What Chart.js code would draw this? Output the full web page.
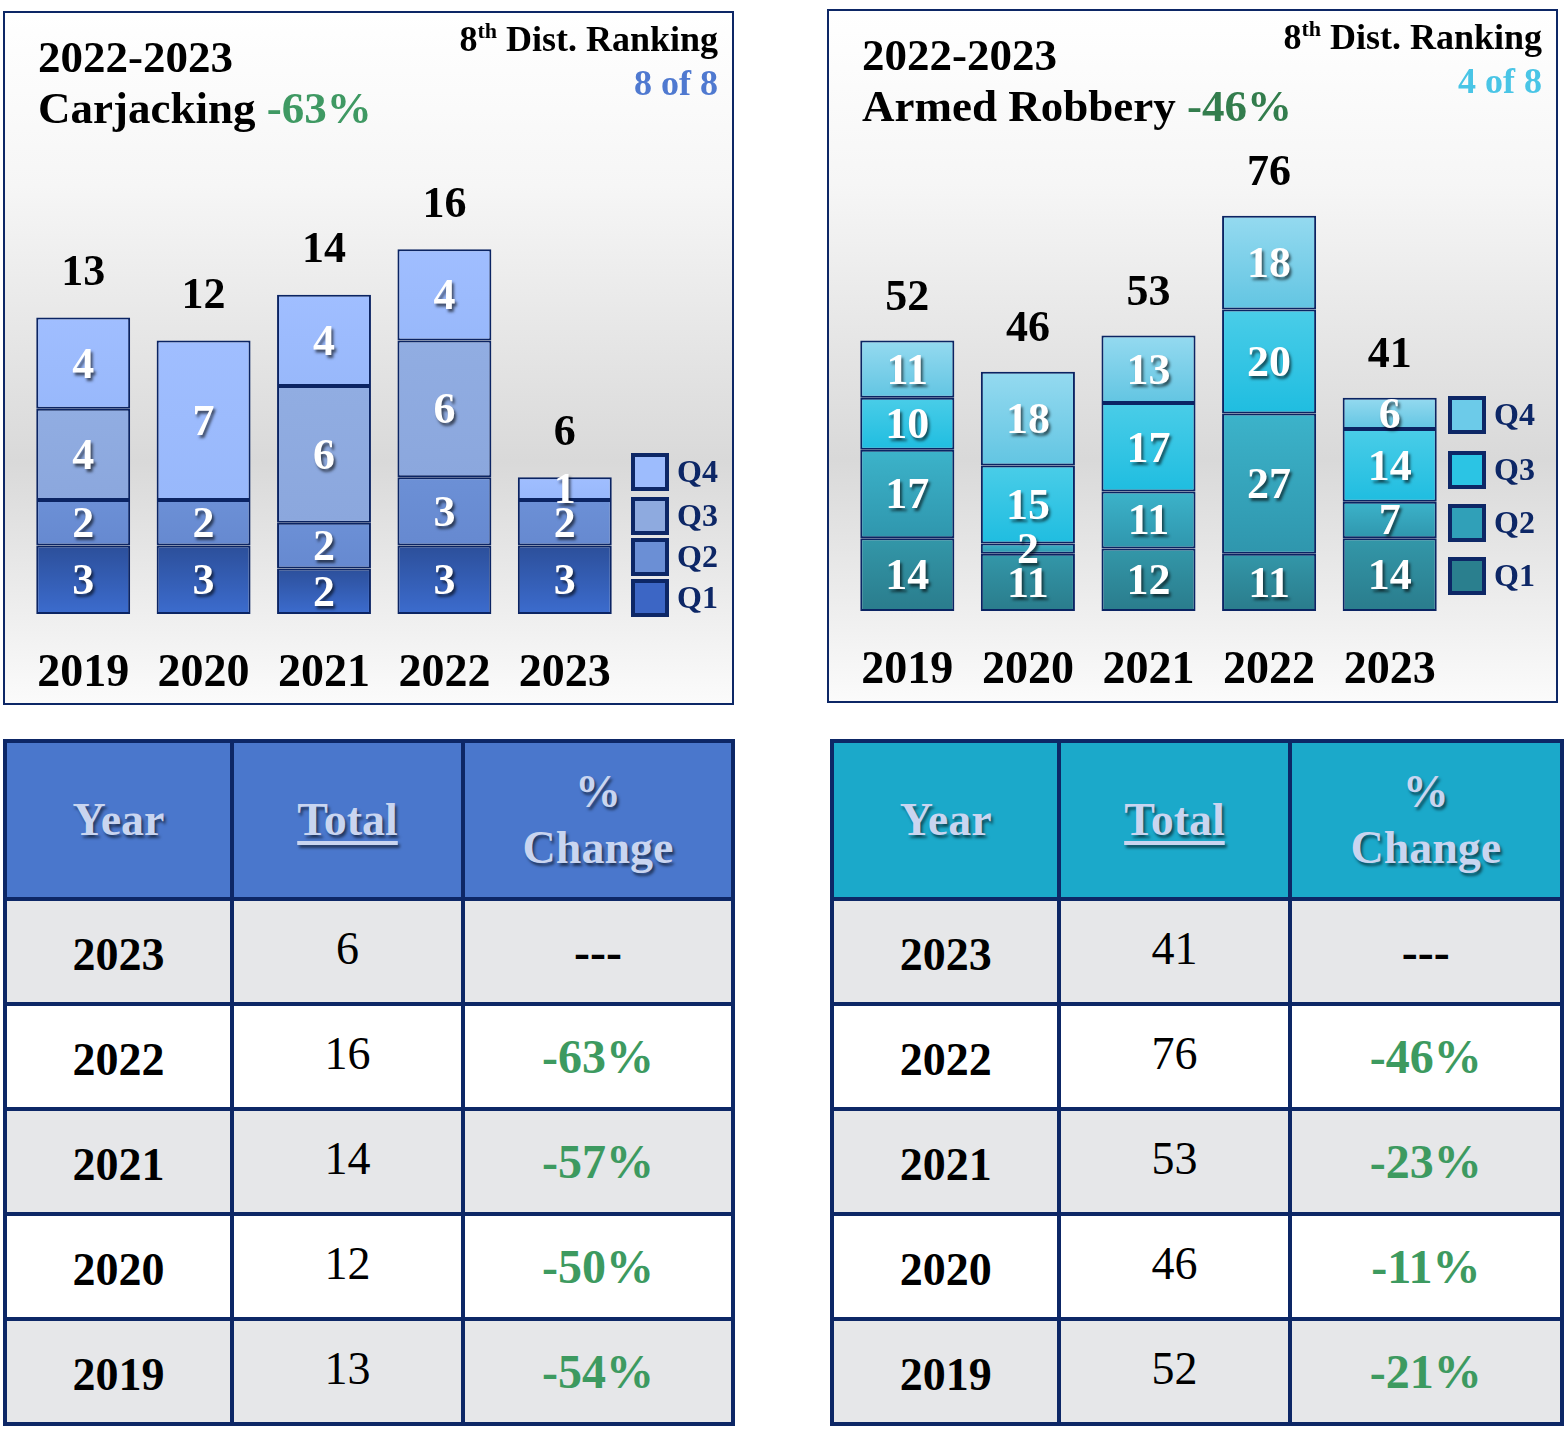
<!DOCTYPE html>
<html lang="en">
<head>
    <meta charset="UTF-8">
    <title>Carjacking / Armed Robbery 2019-2023</title>
    <script src="https://cdn.jsdelivr.net/npm/chart.js@4"></script>
    <style>
        body {
            margin: 0;
            width: 1564px;
            height: 1432px;
            position: relative;
            background: #fff;
            font-family: "Liberation Serif", "Times New Roman", serif;
            overflow: hidden;
        }

        .box {
            position: absolute;
            width: 727px;
            height: 690px;
            border: 2px solid #0d2766;
            background: linear-gradient(to bottom, #ffffff 0%, #f6f6f6 25%, #d9d9d9 65%, #fbfbfb 100%);
        }

        .box canvas {
            position: absolute;
            left: 0;
            top: 0;
        }

        .title {
            position: absolute;
            left: 33px;
            top: 19px;
            font-weight: bold;
            font-size: 45px;
            line-height: 51px;
            color: #000;
            z-index: 2;
        }

        .rank {
            position: absolute;
            right: 14px;
            top: 4px;
            text-align: right;
            font-weight: bold;
            font-size: 36px;
            line-height: 44px;
            color: #000;
            z-index: 2;
        }

        .rank sup {
            font-size: 22px;
            line-height: 0;
        }

        table.stats {
            position: absolute;
            top: 739px;
            border-collapse: collapse;
            table-layout: fixed;
        }

        table.stats th, table.stats td {
            border: 4px solid #0d2766;
            text-align: center;
            padding: 0;
        }

        table.stats th {
            height: 154px;
            font-size: 46px;
            line-height: 56px;
            font-weight: bold;
            color: #c9d5f0;
            text-shadow: 2px 3px 3px rgba(0, 0, 0, 0.55);
        }

        table.stats th u {
            text-decoration-thickness: 4px;
            text-underline-offset: 6px;
        }

        table.stats td {
            height: 95px;
            font-size: 46px;
        }

        table.stats tr:nth-child(even) td { background: #e6e7e9; }
        table.stats tr:nth-child(odd) td { background: #ffffff; }
        table.stats td.yr { font-weight: bold; color: #000; padding-top: 6px; }
        table.stats td.tot { color: #000; padding-bottom: 6px; }
        table.stats td.chg { font-weight: bold; color: #3d9a60; font-size: 48px; }

        #carTable { left: 3px; }
        #carTable th { background: #4a77cc; }
        #robTable { left: 830px; }
        #robTable th { background: #1ba9ca; }
    </style>
</head>
<body>

    <div class="box" style="left:3px; top:11px;">
        <div class="title">2022-2023<br>Carjacking <span style="color:#3f9963">-63%</span></div>
        <div class="rank">8<sup>th</sup> Dist. Ranking<br><span style="color:#4f79d0">8 of 8</span></div>
        <canvas id="carChart" width="727" height="690"></canvas>
    </div>

    <div class="box" style="left:827px; top:9px;">
        <div class="title">2022-2023<br>Armed Robbery <span style="color:#337d4d">-46%</span></div>
        <div class="rank">8<sup>th</sup> Dist. Ranking<br><span style="color:#49c5e6">4 of 8</span></div>
        <canvas id="robChart" width="727" height="690"></canvas>
    </div>

    <table class="stats" id="carTable">
        <colgroup><col style="width:227px"><col style="width:231px"><col style="width:270px"></colgroup>
    </table>
    <table class="stats" id="robTable">
        <colgroup><col style="width:228px"><col style="width:231px"><col style="width:273px"></colgroup>
    </table>

    <script>
        // chart data
        const years = ["2019", "2020", "2021", "2022", "2023"];
        const quarters = ["Q1", "Q2", "Q3", "Q4"];

        const carQ1 = [3, 3, 2, 3, 3];
        const carQ2 = [2, 2, 2, 3, 2];
        const carQ3 = [4, 0, 6, 6, 0];
        const carQ4 = [4, 7, 4, 4, 1];

        const robQ1 = [14, 11, 12, 11, 14];
        const robQ2 = [17, 2, 11, 27, 7];
        const robQ3 = [10, 15, 17, 20, 14];
        const robQ4 = [11, 18, 13, 18, 6];

        // table data
        const tableYears = ["2023", "2022", "2021", "2020", "2019"];
        const carTotals = [6, 16, 14, 12, 13];
        const carChange = ["---", "-63%", "-57%", "-50%", "-54%"];
        const robTotals = [41, 76, 53, 46, 52];
        const robChange = ["---", "-46%", "-23%", "-11%", "-21%"];

        const FONT = '"Liberation Serif", "Times New Roman", serif';

        // vertical gradient per stacked segment
        function segmentFill(top, bottom) {
            return function (c) {
                const chart = c.chart;
                const y = chart.scales.y;
                if (!y || c.dataIndex === undefined) return top;
                let start = 0;
                for (let d = 0; d < c.datasetIndex; d++) start += chart.data.datasets[d].data[c.dataIndex];
                const end = start + chart.data.datasets[c.datasetIndex].data[c.dataIndex];
                const y0 = y.getPixelForValue(end), y1 = y.getPixelForValue(start);
                if (!isFinite(y0) || !isFinite(y1) || y0 === y1) return top;
                const g = chart.ctx.createLinearGradient(0, y0, 0, y1);
                g.addColorStop(0, top);
                g.addColorStop(1, bottom);
                return g;
            };
        }

        const barLabels = {
            id: "barLabels",
            afterDatasetsDraw(chart, args, opts) {
                const ctx = chart.ctx;
                const sets = chart.data.datasets;
                ctx.save();
                ctx.textAlign = "center";
                ctx.textBaseline = "middle";
                ctx.font = "bold 44px " + FONT;

                // values inside the segments
                sets.forEach((ds, i) => {
                    chart.getDatasetMeta(i).data.forEach((bar, j) => {
                        const v = ds.data[j];
                        if (!v) return;
                        ctx.shadowColor = "rgba(0,0,0,0.6)";
                        ctx.shadowOffsetX = 2;
                        ctx.shadowOffsetY = 3;
                        ctx.shadowBlur = 3;
                        ctx.fillStyle = "#fff";
                        ctx.fillText(v, bar.x, (bar.y + bar.base) / 2 + 3);
                    });
                });

                // totals on top
                ctx.shadowColor = "transparent";
                ctx.fillStyle = "#000";
                const topBars = chart.getDatasetMeta(sets.length - 1).data;
                chart.data.labels.forEach((l, j) => {
                    const total = sets.reduce((s, ds) => s + ds.data[j], 0);
                    ctx.fillText(total, topBars[j].x, chart.scales.y.getPixelForValue(total) - opts.gap);
                });

                // legend, Q4 on top
                ctx.textAlign = "left";
                ctx.font = "bold 32px " + FONT;
                for (let k = 0; k < sets.length; k++) {
                    const ds = sets[sets.length - 1 - k];
                    const cy = opts.legendY[k];
                    ctx.fillStyle = ds.legendColor;
                    ctx.fillRect(opts.legendX, cy - 17, 34, 34);
                    ctx.lineWidth = 4;
                    ctx.strokeStyle = "#0d2766";
                    ctx.strokeRect(opts.legendX, cy - 17, 34, 34);
                    ctx.fillStyle = "#0d2766";
                    ctx.fillText(ds.label, opts.legendX + 44, cy + 2);
                }
                ctx.restore();
            }
        };

        function makeChart(id, series, colors, legendColors, yMax, pad, axisHeight, legend) {
            new Chart(document.getElementById(id), {
                type: "bar",
                data: {
                    labels: years,
                    datasets: series.map((s, i) => ({
                        label: quarters[i],
                        data: s,
                        backgroundColor: segmentFill(colors[i][0], colors[i][1]),
                        legendColor: legendColors[i],
                        borderColor: "#0b2463",
                        borderWidth: 2,
                        borderSkipped: false,
                        barPercentage: 0.78,
                        categoryPercentage: 1
                    }))
                },
                plugins: [barLabels],
                options: {
                    responsive: false,
                    animation: false,
                    layout: { padding: pad },
                    plugins: {
                        legend: { display: false },
                        tooltip: { enabled: false },
                        barLabels: legend
                    },
                    scales: {
                        x: {
                            stacked: true,
                            grid: { display: false, drawTicks: false },
                            border: { display: false },
                            // tall line height pushes the year labels down without widening the side padding
                            ticks: { color: "#000", font: { family: FONT, size: 46, weight: "bold", lineHeight: 2.6 }, padding: 0 },
                            afterFit(scale) { scale.height = axisHeight; }
                        },
                        y: { stacked: true, display: false, min: 0, max: yMax }
                    }
                }
            });
        }

        makeChart("carChart", [carQ1, carQ2, carQ3, carQ4],
            [["#2c4f9a", "#3c6cce"], ["#6c90d6", "#6689d0"], ["#91ade2", "#8ba7dd"], ["#a0beff", "#98b8fb"]],
            ["#3c66c5", "#6b8fd5", "#8eaadf", "#9dbcfd"],
            20, { top: 145, bottom: 0, left: 18, right: 107 }, 89,
            { gap: 44, legendX: 628, legendY: [459, 503, 544, 585] });

        makeChart("robChart", [robQ1, robQ2, robQ3, robQ4],
            [["#3397a9", "#2a7c8c"], ["#3cb3ca", "#2f96ad"], ["#4acde8", "#1fbde0"], ["#95daf0", "#62c5e2"]],
            ["#2a7f8e", "#30a0b8", "#2bc4e4", "#6ccbe9"],
            90, { top: 132, bottom: 0, left: 18, right: 106 }, 90,
            { gap: 42, legendX: 621, legendY: [404, 459, 512, 565] });

        // tables
        function fillTable(id, totals, changes) {
            const t = document.getElementById(id);
            let html = '<tr><th>Year</th><th><u>Total</u></th><th>%<br>Change</th></tr>';
            tableYears.forEach((y, i) => {
                html += '<tr><td class="yr">' + y + '</td><td class="tot">' + totals[i] +
                    '</td><td class="chg"' + (changes[i] === "---" ? ' style="color:#000"' : '') + '>' + changes[i] + '</td></tr>';
            });
            t.insertAdjacentHTML("beforeend", html);
        }
        fillTable("carTable", carTotals, carChange);
        fillTable("robTable", robTotals, robChange);
    </script>

</body>
</html>
